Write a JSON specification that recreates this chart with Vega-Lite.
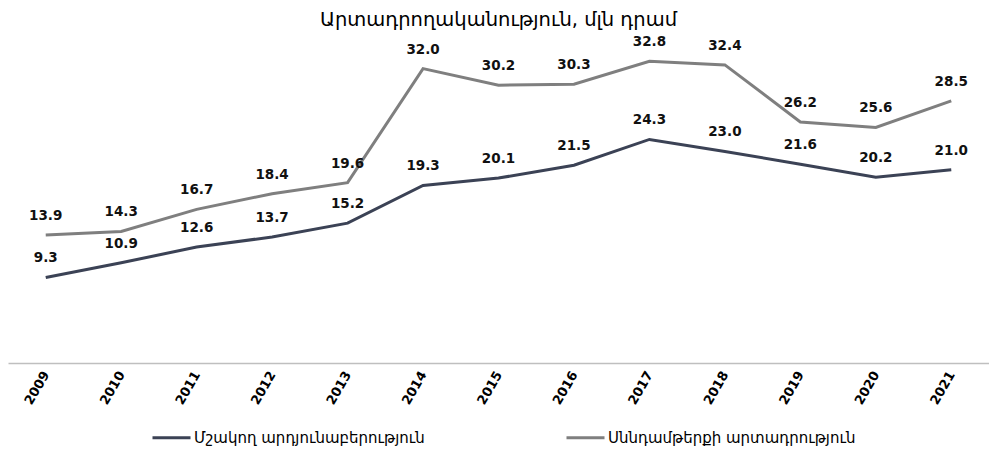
{
  "$schema": "https://vega.github.io/schema/vega-lite/v6.json",
  "autosize": "none",
  "width": 981,
  "height": 322,
  "padding": {"left": 8, "top": 41, "right": 0, "bottom": 92},
  "background": "white",
  "view": {"stroke": null},
  "title": {
    "text": "Արտադրողականություն, մլն դրամ",
    "font": "DejaVu Sans",
    "fontSize": 19.5,
    "fontWeight": "normal",
    "color": "#000000",
    "anchor": "middle",
    "offset": 5
  },
  "data": {
    "values": [
      {"year": "2009", "series": "Մշակող արդյունաբերություն", "value": 9.3},
      {"year": "2010", "series": "Մշակող արդյունաբերություն", "value": 10.9},
      {"year": "2011", "series": "Մշակող արդյունաբերություն", "value": 12.6},
      {"year": "2012", "series": "Մշակող արդյունաբերություն", "value": 13.7},
      {"year": "2013", "series": "Մշակող արդյունաբերություն", "value": 15.2},
      {"year": "2014", "series": "Մշակող արդյունաբերություն", "value": 19.3},
      {"year": "2015", "series": "Մշակող արդյունաբերություն", "value": 20.1},
      {"year": "2016", "series": "Մշակող արդյունաբերություն", "value": 21.5},
      {"year": "2017", "series": "Մշակող արդյունաբերություն", "value": 24.3},
      {"year": "2018", "series": "Մշակող արդյունաբերություն", "value": 23.0},
      {"year": "2019", "series": "Մշակող արդյունաբերություն", "value": 21.6},
      {"year": "2020", "series": "Մշակող արդյունաբերություն", "value": 20.2},
      {"year": "2021", "series": "Մշակող արդյունաբերություն", "value": 21.0},
      {"year": "2009", "series": "Սննդամթերքի արտադրություն", "value": 13.9},
      {"year": "2010", "series": "Սննդամթերքի արտադրություն", "value": 14.3},
      {"year": "2011", "series": "Սննդամթերքի արտադրություն", "value": 16.7},
      {"year": "2012", "series": "Սննդամթերքի արտադրություն", "value": 18.4},
      {"year": "2013", "series": "Սննդամթերքի արտադրություն", "value": 19.6},
      {"year": "2014", "series": "Սննդամթերքի արտադրություն", "value": 32.0},
      {"year": "2015", "series": "Սննդամթերքի արտադրություն", "value": 30.2},
      {"year": "2016", "series": "Սննդամթերքի արտադրություն", "value": 30.3},
      {"year": "2017", "series": "Սննդամթերքի արտադրություն", "value": 32.8},
      {"year": "2018", "series": "Սննդամթերքի արտադրություն", "value": 32.4},
      {"year": "2019", "series": "Սննդամթերքի արտադրություն", "value": 26.2},
      {"year": "2020", "series": "Սննդամթերքի արտադրություն", "value": 25.6},
      {"year": "2021", "series": "Սննդամթերքի արտադրություն", "value": 28.5}
    ]
  },
  "encoding": {
    "x": {
      "field": "year",
      "type": "ordinal",
      "scale": {"type": "point", "padding": 0.5},
      "axis": {
        "title": null,
        "labelAngle": -60,
        "labelFont": "DejaVu Sans",
        "labelFontSize": 13,
        "labelFontWeight": "bold",
        "labelColor": "#000000",
        "labelPadding": 9,
        "ticks": false,
        "domainColor": "#bfbfbf",
        "domainWidth": 1.5,
        "grid": false
      }
    },
    "y": {
      "field": "value",
      "type": "quantitative",
      "scale": {"domain": [0, 35], "nice": false},
      "axis": null
    }
  },
  "layer": [
    {
      "mark": {"type": "line", "strokeWidth": 3, "strokeJoin": "miter"},
      "encoding": {
        "color": {
          "field": "series",
          "type": "nominal",
          "scale": {
            "domain": ["Մշակող արդյունաբերություն", "Սննդամթերքի արտադրություն"],
            "range": ["#3b4255", "#7f7f7f"]
          },
          "legend": {
            "title": null,
            "orient": "none",
            "direction": "horizontal",
            "legendX": 143,
            "legendY": 376,
            "symbolType": "stroke",
            "symbolSize": 1444,
            "symbolStrokeWidth": 3,
            "labelFont": "DejaVu Sans",
            "labelFontSize": 15,
            "labelColor": "#000000",
            "labelOffset": 2,
            "columnPadding": 135,
            "labelLimit": 400
          }
        }
      }
    },
    {
      "mark": {
        "type": "text",
        "font": "DejaVu Sans",
        "fontSize": 13.5,
        "fontWeight": "bold",
        "color": "#111111",
        "baseline": "bottom",
        "dy": -12
      },
      "encoding": {
        "text": {"field": "value", "type": "quantitative", "format": ".1f"}
      }
    }
  ]
}
